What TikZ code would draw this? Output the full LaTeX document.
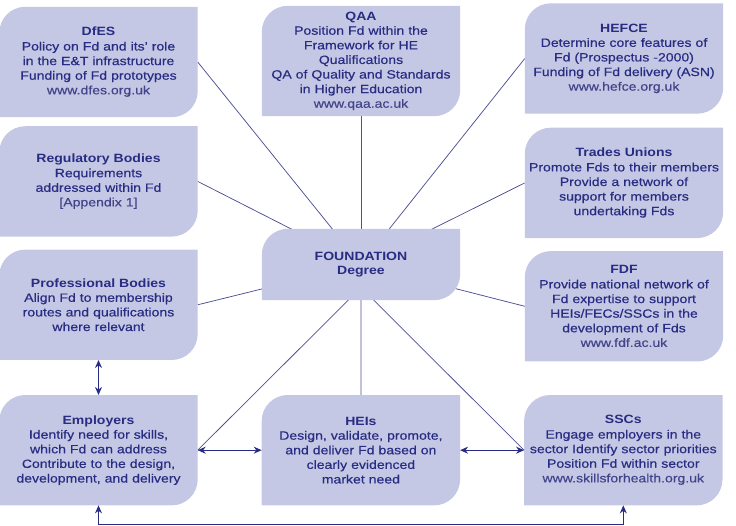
\documentclass[tikz,border=0pt]{standalone}
\usepackage{fontspec}
\setmainfont[FakeStretch=1.17, UprightFeatures={FakeBold=0.4}]{Liberation Sans}
\usepackage{tikz}
\usetikzlibrary{positioning,arrows.meta,backgrounds}
\definecolor{boxfill}{RGB}{197,200,228}
\definecolor{navy}{RGB}{40,44,130}
\definecolor{webblue}{RGB}{66,68,138}
\definecolor{spoke}{RGB}{78,80,148}
\newcommand{\weblink}[1]{{\color{webblue}#1}}

\begin{document}
\begin{tikzpicture}[x=1pt, y=1pt,
      node distance=9pt,
      entity/.style={align=center, text=navy, inner sep=0pt,
                     minimum width=198pt, minimum height=110pt, text width=196pt,
                     font=\fontsize{12}{14.6}\selectfont},
      spokeline/.style={draw=spoke, line width=0.75pt},
      link/.style={{Stealth[length=8pt,width=7pt]}-{Stealth[length=8pt,width=7pt]},
                   draw=navy, line width=1pt}]
    \useasboundingbox (0,0) rectangle (736,-526);
    \node[entity] (dfes) at (98.5,-62) {\textbf{DfES}\\Policy on Fd and its’ role\\in the E\&T infrastructure\\Funding of Fd prototypes\\\weblink{www.dfes.org.uk}};
    \node[entity, below=9pt of dfes] (reg) {\textbf{Regulatory Bodies}\\Requirements\\addressed within Fd\\\weblink{[Appendix 1]}};
    \node[entity, below=13pt of reg] (prof) {\textbf{Professional Bodies}\\Align Fd to membership\\routes and qualifications\\where relevant};
    \node[entity, below=35pt of prof] (empl) {\textbf{Employers}\\Identify need for skills,\\which Fd can address\\Contribute to the design,\\development, and delivery};
    \node[entity] (qaa) at (361,-61) {\textbf{QAA}\\Position Fd within the\\Framework for HE\\Qualifications\\QA of Quality and Standards\\in Higher Education\\\weblink{www.qaa.ac.uk}};
    \node[entity] (hefce) at (624,-58.5) {\textbf{HEFCE}\\Determine core features of\\Fd (Prospectus -2000)\\Funding of Fd delivery (ASN)\\\weblink{www.hefce.org.uk}};
    \node[entity, below=14pt of hefce] (tu) {\textbf{Trades Unions}\\Promote Fds to their members\\Provide a network of\\support for members\\undertaking Fds};
    \node[entity, below=13pt of tu] (fdf) {\textbf{FDF}\\Provide national network of\\Fd expertise to support\\HEIs/FECs/SSCs in the\\development of Fds\\\weblink{www.fdf.ac.uk}};
    \node[entity, minimum height=71pt] (found) at (361,-264.5) {\textbf{FOUNDATION}\\\textbf{Degree}};
    \node[entity, right=64pt of empl] (hei) {\textbf{HEIs}\\Design, validate, promote,\\and deliver Fd based on\\clearly evidenced\\market need};
    \node[entity, right=64pt of hei] (ssc) {\textbf{SSCs}\\Engage employers in the\\sector Identify sector priorities\\Position Fd within sector\\\weblink{www.skillsforhealth.org.uk}};
    \begin{scope}[on background layer]
      \coordinate (hub) at ([yshift=-23pt]found.center);
      \foreach \n/\a in {dfes/east, reg/east, prof/east, qaa/south, hefce/west, tu/west, fdf/west, hei/north}
        \draw[spokeline] (found.center) -- (\n.\a);
      \draw[spokeline] (hub) -- (empl.east);
      \draw[spokeline] (hub) -- (ssc.west);
      \foreach \n in {dfes, reg, prof, empl, qaa, hefce, tu, fdf, found, hei, ssc}
        \fill[boxfill] (\n.south west) -- ([yshift=-26pt]\n.north west)
          arc[start angle=180, end angle=90, radius=26pt] -- (\n.north east)
          -- ([yshift=26pt]\n.south east)
          arc[start angle=0, end angle=-90, radius=26pt] -- cycle;
    \end{scope}
    \draw[link] (prof) -- (empl);
    \draw[link] (empl) -- (hei);
    \draw[link] (hei) -- (ssc);
    \draw[link] (empl.south) -- ++(0,-19) -| (ssc.south);
  \end{tikzpicture}
\end{document}
